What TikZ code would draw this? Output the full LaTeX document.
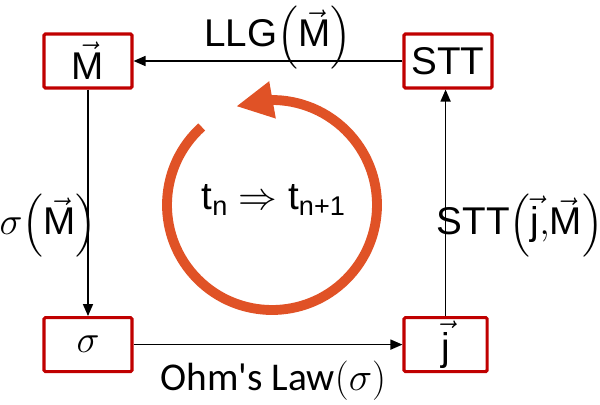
\RequirePackage{fix-cm}
\documentclass[tikz,border=0pt]{standalone}
\usepackage{amsmath}
\usepackage{fontspec}
\setmainfont{Liberation Sans}
\newfontfamily\ohmfont{Carlito}
\definecolor{boxred}{RGB}{192,0,0}
\definecolor{cycleorange}{RGB}{224,82,38}
\usetikzlibrary{arrows.meta, bending}

\begin{document}
\begin{tikzpicture}[
  font=\fontsize{27.5}{30}\selectfont,
  state/.style={draw=boxred, line width=2.2pt, rounded corners=1pt, minimum width=2.2cm, minimum height=1.35cm, inner sep=0pt},
  flow/.style={line width=1.1pt, -{Triangle[length=0.3cm,width=0.25cm]}}
]
\useasboundingbox (0,0) rectangle (15,10.125);

\node[state] (mag) at (2.2,8.6) {$\vec{\text{M}}$};
\node[state] (stt) at (11.2,8.6) {STT};
\node[state] (sig) at (2.2,1.51) {$\sigma$};
\node[state, minimum width=2.08cm] (cur) at (11.14,1.51) {$\vec{\text{j}}$};

\draw[flow] (stt) -- (mag);
\draw[flow] (mag) -- (sig);
\draw[flow] (sig) -- (cur);
\draw[flow] (cur.north) -- (cur.north |- stt.south);

% labels of the four steps
\node[anchor=base] (llg) at (6.95,8.95) {LLG$\mathopen{}\left(\vec{\text{M}}\right)$};
\node[anchor=base] (sigm) at (1.2,4.25) {$\sigma\mathopen{}\left(\vec{\text{M}}\right)$};
\node[anchor=base] (sttjm) at (13.0,4.25) {STT$\mathopen{}\left(\vec{\text{j}}{,}\vec{\text{M}}\right)$};
\node[anchor=base, font=\ohmfont\fontsize{28}{30}\selectfont] (ohm) at (6.83,0.35) {Ohm\textquotesingle s Law$(\sigma)$};

% time step cycle
\coordinate (hub) at (6.8,5.0);
\draw[cycleorange, line width=7pt, -{Triangle[length=0.925cm,width=0.875cm]}] (hub) ++(132:2.625) arc[start angle=132, end angle=470, radius=2.625];
\node[anchor=base] (tick) at (6.84,4.875) {$\text{t}_\text{n}\Rightarrow\text{t}_\text{n+1}$};
\end{tikzpicture}
\end{document}
